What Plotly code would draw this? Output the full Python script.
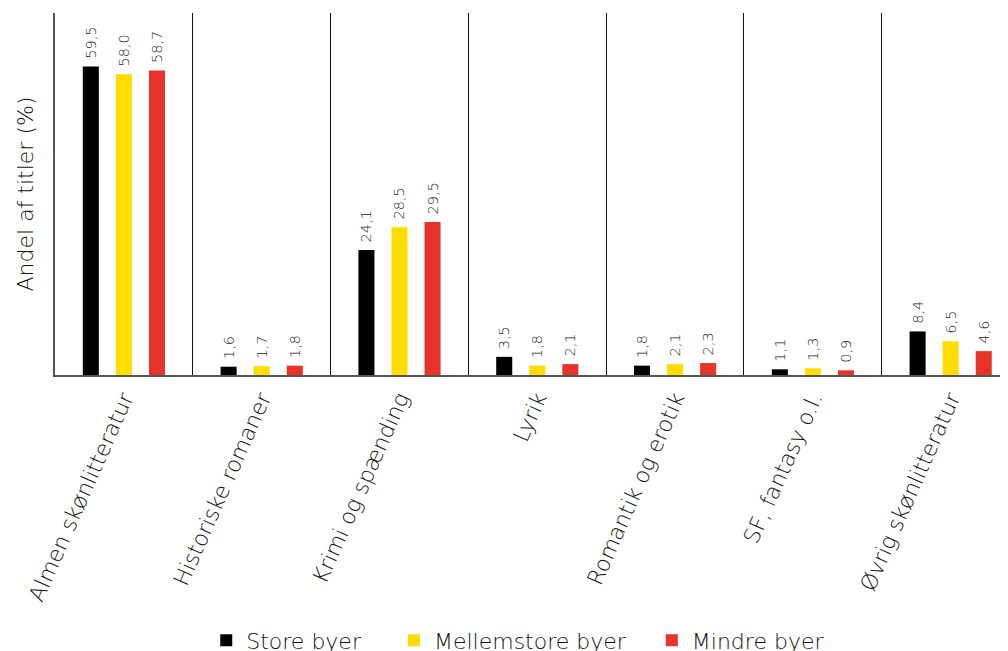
import plotly.graph_objects as go

categories = ["Almen skønlitteratur", "Historiske romaner", "Krimi og spænding", "Lyrik",
              "Romantik og erotik", "SF, fantasy o.l.", "Øvrig skønlitteratur"]
store = [59.5, 1.6, 24.1, 3.5, 1.8, 1.1, 8.4]
mellem = [58.0, 1.7, 28.5, 1.8, 2.1, 1.3, 6.5]
mindre = [58.7, 1.8, 29.5, 2.1, 2.3, 0.9, 4.6]
series_names = ["Store byer", "Mellemstore byer", "Mindre byer"]
colors = ["#000000", "#FFDD00", "#E8332A"]

FONT = "DejaVu Sans"
W = 200
NB = "\u00a0"

def fmt(v):
    return NB + f"{v:.1f}".replace(".", ",")

legend_names = [series_names[0] + NB * 4, series_names[1] + NB * 3, series_names[2]]

fig = go.Figure()
for name, vals, col in zip(legend_names, [store, mellem, mindre], colors):
    fig.add_trace(go.Bar(
        x=categories, y=vals, name=name, marker=dict(color=col, line=dict(width=0)),
        text=[fmt(v) for v in vals], textposition="outside", textangle=-90,
        constraintext="none",
        textfont=dict(family=FONT, size=14.5, color="#222222", weight=W),
        cliponaxis=False,
    ))

fig.update_layout(
    width=1000, height=643,
    paper_bgcolor="white", plot_bgcolor="white",
    margin=dict(l=47, r=0, t=5, b=276, autoexpand=False),
    barmode="group", bargap=0.28, bargroupgap=0.515,
    font=dict(family=FONT, color="#111111", weight=W),
    legend=dict(orientation="h", x=0.1587, xanchor="left", y=-0.675, yanchor="top",
                font=dict(family=FONT, size=22, color="#111111", weight=W),
                itemwidth=30, traceorder="normal"),
    showlegend=True,
)
fig.update_xaxes(
    type="category", range=[-0.5, 6.416], tickson="boundaries",
    showgrid=True, gridcolor="#111111", gridwidth=1.3,
    showline=True, linecolor="#555555", linewidth=2,
    ticks="", tickangle=-66,
    tickfont=dict(family=FONT, size=22, color="#111111", weight=W),
)
fig.update_yaxes(
    range=[0, 69.8], showgrid=False, zeroline=False,
    showline=True, linecolor="#555555", linewidth=2,
    showticklabels=False, ticks="",
    title=dict(text="Andel af titler (%)", standoff=13,
               font=dict(family=FONT, size=22, color="#111111", weight=W)),
)
fig.write_html("out.html")
